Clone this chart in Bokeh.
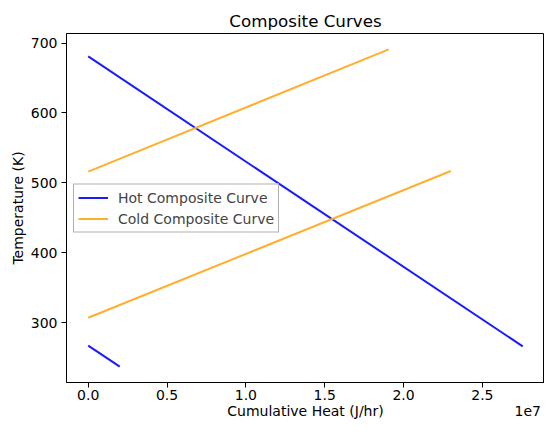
from bokeh.plotting import figure
from bokeh.models import FixedTicker, Range1d, Legend, LegendItem, LinearAxis
from bokeh.embed import file_html
from bokeh.resources import INLINE

# ---- data ----
hot_xs = [[0.0, 2.756e7], [0.0, 2.0e6]]
hot_ys = [[681.0, 266.0], [267.0, 237.0]]
cold_xs = [[0.0, 1.906e7], [0.0, 2.30e7]]
cold_ys = [[516.0, 691.0], [307.0, 517.0]]

x_tick_values = [0.0, 0.5e7, 1.0e7, 1.5e7, 2.0e7, 2.5e7]
x_tick_labels = ["0.0", "0.5", "1.0", "1.5", "2.0", "2.5"]
y_tick_values = [300, 400, 500, 600, 700]
x_offset_text = "1e7"

title_text = "Composite Curves"
x_label = "Cumulative Heat (J/hr)"
y_label = "Temperature (K)"
hot_label = "Hot Composite Curve"
cold_label = "Cold Composite Curve"

X_START, X_END = -1.378e6, 2.894e7
Y_START, Y_END = 214.3, 713.7

FONT = "DejaVu Sans"

p = figure(width=544, height=421, output_backend="svg", toolbar_location=None,
           x_range=Range1d(X_START, X_END), y_range=Range1d(Y_START, Y_END),
           min_border_left=66, min_border_right=0, min_border_top=33, min_border_bottom=0)
p.background_fill_color = "white"
p.border_fill_color = "white"
p.outline_line_color = "black"
p.outline_line_width = 1
p.xgrid.visible = False
p.ygrid.visible = False

p.title.text = title_text
p.title.align = "center"
p.title.text_font = FONT
p.title.text_font_style = "normal"
p.title.text_font_size = "16.7px"
p.title.text_color = "black"
p.title.standoff = 6

hot_r = p.multi_line(hot_xs, hot_ys, line_color="#1a1aff", line_width=2)
cold_r = p.multi_line(cold_xs, cold_ys, line_color="#ffae2e", line_width=2)

for ax in (p.xaxis[0], p.yaxis[0]):
    ax.axis_line_color = "black"
    ax.major_tick_line_color = "black"
    ax.major_tick_out = 5
    ax.major_tick_in = 0
    ax.minor_tick_line_color = None
    ax.major_label_text_font = FONT
    ax.major_label_text_font_size = "14px"
    ax.major_label_text_color = "black"
    ax.axis_label_text_font = FONT
    ax.axis_label_text_font_size = "14px"
    ax.axis_label_text_font_style = "normal"
    ax.axis_label_text_color = "black"

p.xaxis.ticker = FixedTicker(ticks=x_tick_values)
p.xaxis.major_label_overrides = {v: s for v, s in zip(x_tick_values, x_tick_labels)}
p.xaxis.major_label_standoff = 2

# second row below the x axis: axis title (centred) and the "1e7" offset text (right)
label_center = (X_START + X_END) / 2
offset_pos = X_END - 0.035 * (X_END - X_START)
row_axis = LinearAxis(ticker=FixedTicker(ticks=[label_center, offset_pos]),
                      major_label_overrides={label_center: x_label, offset_pos: x_offset_text},
                      axis_line_color=None, major_tick_line_color=None,
                      minor_tick_line_color=None, major_tick_out=0, major_tick_in=0,
                      major_label_standoff=0, major_label_text_font=FONT,
                      major_label_text_font_size="14px", major_label_text_color="black")
p.add_layout(row_axis, "below")

p.yaxis.ticker = FixedTicker(ticks=y_tick_values)
p.yaxis.axis_label = y_label
p.yaxis.major_label_standoff = 4
p.yaxis.axis_label_standoff = 2

legend = Legend(items=[LegendItem(label=hot_label, renderers=[hot_r]),
                       LegendItem(label=cold_label, renderers=[cold_r])],
                location="center_left", margin=7, padding=4, spacing=3,
                glyph_width=30, glyph_height=18, label_height=18, label_standoff=10,
                label_text_font=FONT, label_text_font_size="14px",
                border_line_color="#b0b0b0", border_line_width=1, border_line_alpha=1.0,
                background_fill_color="white", background_fill_alpha=0.8)
p.add_layout(legend)

open("out.html", "w").write(file_html(p, INLINE))
